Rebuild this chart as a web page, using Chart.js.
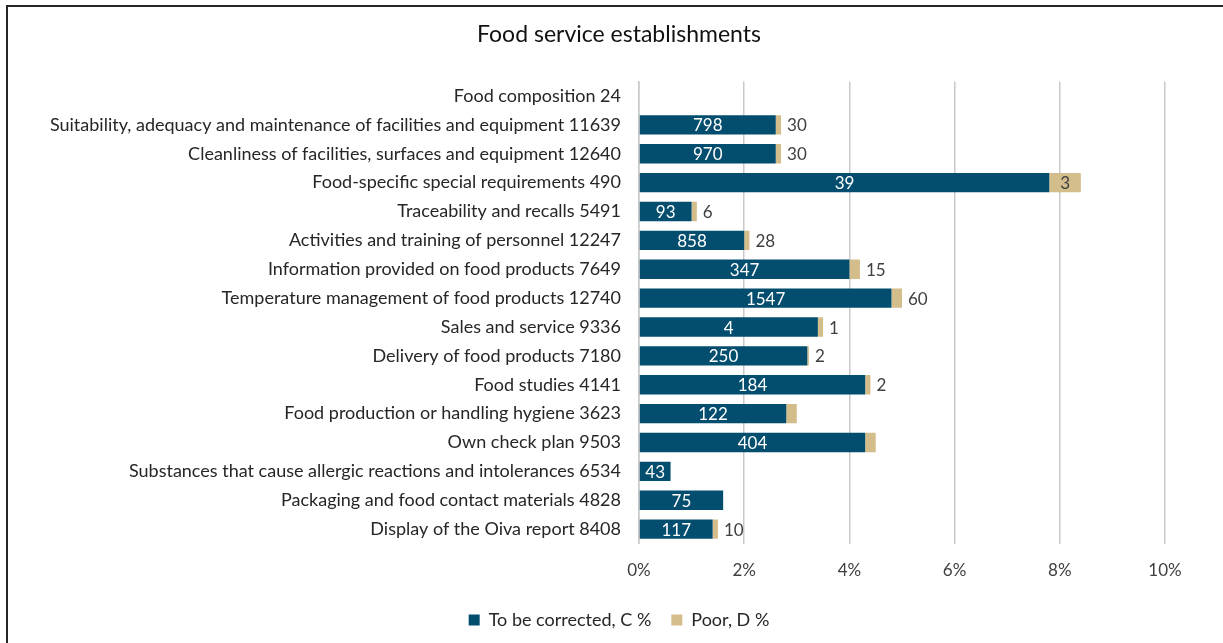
<!DOCTYPE html>
<html>
<head>
<meta charset="utf-8">
<script src="https://cdn.jsdelivr.net/npm/chart.js@4.4.1/dist/chart.umd.min.js"></script>
<style>
  body { margin: 0; background: #fff; }
  #wrap { position: relative; width: 1223px; height: 643px; overflow: hidden; }
  #frame { position: absolute; left: 6px; top: 5px; width: 1240px; height: 660px; border: 2px solid #262626; box-sizing: border-box; }
  #mycanvas { position: absolute; left: 0; top: 0; }
</style>
</head>
<body>
<div id="wrap">
  <div id="frame"></div>
  <canvas id="mycanvas" width="1223" height="643"></canvas>
</div>
<script>
var categories = [
  'Food composition 24',
  'Suitability, adequacy and maintenance of facilities and equipment 11639',
  'Cleanliness of facilities, surfaces and equipment 12640',
  'Food-specific special requirements 490',
  'Traceability and recalls 5491',
  'Activities and training of personnel 12247',
  'Information provided on food products 7649',
  'Temperature management of food products 12740',
  'Sales and service 9336',
  'Delivery of food products 7180',
  'Food studies 4141',
  'Food production or handling hygiene 3623',
  'Own check plan 9503',
  'Substances that cause allergic reactions and intolerances 6534',
  'Packaging and food contact materials 4828',
  'Display of the Oiva report 8408'
];

// share of inspections, %
var correctedPct = [0, 2.6, 2.6, 7.8, 1.0, 2.0, 4.0, 4.8, 3.4, 3.2, 4.3, 2.8, 4.3, 0.6, 1.6, 1.4];
var poorPct      = [0, 0.1, 0.1, 0.6, 0.1, 0.1, 0.2, 0.2, 0.1, 0.03, 0.1, 0.2, 0.2, 0, 0, 0.1];

// number of inspections shown on the bars
var correctedCount = [null, 798, 970, 39, 93, 858, 347, 1547, 4, 250, 184, 122, 404, 43, 75, 117];
var poorCount      = [null, 30, 30, 3, 6, 28, 15, 60, 1, 2, 2, null, null, null, null, 10];

var xTicks = [0, 2, 4, 6, 8, 10];

var FONT = 'Lato, "Open Sans", sans-serif';

var barLabels = {
  id: 'barLabels',
  afterDatasetsDraw: function(chart) {
    var ctx = chart.ctx;
    ctx.save();
    ctx.font = '17px ' + FONT;
    ctx.textBaseline = 'middle';
    var metaC = chart.getDatasetMeta(0);
    var metaD = chart.getDatasetMeta(1);
    for (var i = 0; i < categories.length; i++) {
      var c = metaC.data[i], d = metaD.data[i];
      if (correctedCount[i] != null) {
        ctx.fillStyle = '#ffffff';
        ctx.textAlign = 'center';
        ctx.fillText(correctedCount[i], (c.base + c.x) / 2, c.y + 1);
      }
      if (poorCount[i] != null) {
        var txt = String(poorCount[i]);
        var w = ctx.measureText(txt).width;
        ctx.fillStyle = '#404040';
        if (d.x - d.base > w + 6) {
          ctx.textAlign = 'center';
          ctx.fillText(txt, (d.base + d.x) / 2, d.y + 1);
        } else {
          ctx.textAlign = 'left';
          ctx.fillText(txt, d.x + 6, d.y + 1);
        }
      }
    }
    ctx.restore();
  }
};

var chartdata = {
  labels: categories,
  datasets: [
    {
      label: 'To be corrected, C %',
      backgroundColor: '#034d6e',
      data: correctedPct
    },
    {
      label: 'Poor, D %',
      backgroundColor: '#d3bd8b',
      data: poorPct
    }
  ]
};

var ctx = document.getElementById('mycanvas');
var barGraph = new Chart(ctx, {
  type: 'bar',
  data: chartdata,
  plugins: [barLabels],
  options: {
    indexAxis: 'y',
    responsive: false,
    animation: false,
    layout: { padding: { left: 35, right: 20, top: 0, bottom: 4 } },
    datasets: { bar: { barPercentage: 0.67, categoryPercentage: 1.0 } },
    scales: {
      x: {
        stacked: true,
        min: 0,
        max: 10,
        afterBuildTicks: function(axis) {
          axis.ticks = xTicks.map(function(v) { return { value: v }; });
        },
        afterFit: function(axis) { axis.height = axis.height - 7; },
        ticks: {
          color: '#404040',
          font: { family: FONT, size: 17 },
          padding: 17,
          callback: function(v) { return v + '%'; }
        },
        grid: { color: '#c9c9c9', lineWidth: 1.5, drawTicks: false },
        border: { display: false }
      },
      y: {
        stacked: true,
        afterFit: function(axis) { axis.width = 604; },
        ticks: {
          color: '#262626',
          font: { family: FONT, size: 18 },
          padding: 18
        },
        grid: { display: false, drawTicks: false },
        border: { display: true, color: '#c9c9c9', width: 1.5 }
      },
      // empty right-hand axis, only reserves the margin after 10%
      yRight: {
        position: 'right',
        afterFit: function(axis) { axis.width = 38; },
        ticks: { display: false },
        grid: { display: false, drawTicks: false },
        border: { display: false }
      }
    },
    plugins: {
      title: {
        display: true,
        text: 'Food service establishments',
        color: '#111111',
        font: { family: FONT, size: 23, weight: 'normal' },
        padding: { top: 21, bottom: 33 }
      },
      legend: {
        position: 'bottom',
        labels: {
          color: '#262626',
          font: { family: FONT, size: 18 },
          boxWidth: 11,
          boxHeight: 11,
          padding: 20
        }
      },
      tooltip: { enabled: false }
    }
  }
});
</script>
</body>
</html>
